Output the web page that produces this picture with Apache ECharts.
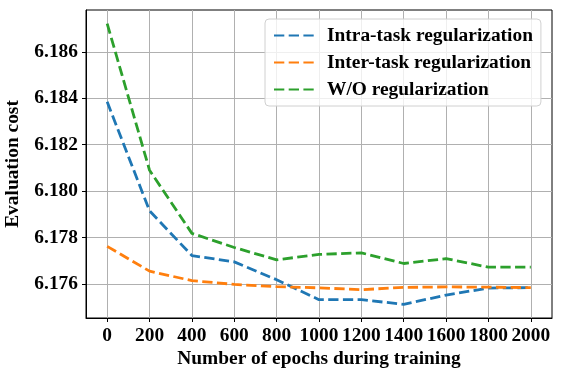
<!DOCTYPE html>
<html>
<head>
<meta charset="utf-8">
<script src="https://cdn.jsdelivr.net/npm/echarts@6/dist/echarts.min.js"></script>
<style>
  html, body { margin: 0; padding: 0; background: #fff; }
  #chart { width: 561px; height: 377px; }
</style>
</head>
<body>
<div id="chart"></div>
<script>
const epochs = [0, 200, 400, 600, 800, 1000, 1200, 1400, 1600, 1800, 2000]
const intraTask = [6.18385, 6.17915, 6.17722, 6.17695, 6.17618, 6.17532, 6.17532, 6.17512, 6.17552, 6.17582, 6.17584]
const interTask = [6.17762, 6.17655, 6.17614, 6.17598, 6.17588, 6.17583, 6.17575, 6.17585, 6.17587, 6.17586, 6.17584]
const withoutReg = [6.18722, 6.18090, 6.17818, 6.17757, 6.17704, 6.17727, 6.17734, 6.17688, 6.17709, 6.17672, 6.17672]
const yTicks = [6.176, 6.178, 6.180, 6.182, 6.184, 6.186]
const xTicks = [0, 200, 400, 600, 800, 1000, 1200, 1400, 1600, 1800, 2000]

const font = 'Liberation Serif, Times New Roman, serif'
const fontSize = 19.4
const colors = ['#1f77b4', '#ff7f0e', '#2ca02c']

const chart = echarts.init(document.getElementById('chart'))

const makeSeries = (name, values, color) => ({
  name,
  type: 'line',
  data: epochs.map((e, i) => [e, values[i]]),
  symbol: 'none',
  lineStyle: { color, width: 2.8, type: [10.3, 4.4] },
  itemStyle: { color },
  z: 3
})

const textStyle = { fontFamily: font, fontWeight: 'bold', fontSize, color: '#000' }

const option = {
  animation: false,
  grid: {
    left: 86, top: 10, right: 9, bottom: 59,
    outerBoundsMode: 'none',
    show: true, borderColor: '#000', borderWidth: 1
  },
  legend: {
    left: 265, top: 19,
    orient: 'vertical',
    itemWidth: 40, itemHeight: 12, itemGap: 8,
    padding: [7, 8, 7, 8],
    backgroundColor: 'rgba(255,255,255,0.8)',
    borderColor: '#d0d0d0', borderWidth: 1, borderRadius: 4,
    itemStyle: { color: 'rgba(0,0,0,0)', borderWidth: 0, opacity: 0 },
    textStyle: { ...textStyle, padding: [0, 0, 0, 8] },
    data: ['Intra-task regularization', 'Inter-task regularization', 'W/O regularization']
  },
  xAxis: {
    type: 'value',
    min: -100, max: 2100,
    name: 'Number of epochs during training',
    nameLocation: 'middle', nameGap: 29,
    nameTextStyle: textStyle,
    axisLine: { show: true, onZero: false, lineStyle: { color: '#000' } },
    axisTick: { show: true, length: 4, lineStyle: { color: '#000' }, customValues: xTicks },
    axisLabel: { customValues: xTicks, margin: 8, formatter: (v) => String(v), ...textStyle },
    splitLine: { show: true, lineStyle: { color: '#b0b0b0', width: 1 } }
  },
  yAxis: {
    type: 'value',
    min: 6.17453, max: 6.18781,
    name: 'Evaluation cost',
    nameLocation: 'middle', nameGap: 64,
    nameTextStyle: textStyle,
    axisLine: { show: true, onZero: false, lineStyle: { color: '#000' } },
    axisTick: { show: true, length: 4, lineStyle: { color: '#000' }, customValues: yTicks },
    axisLabel: { customValues: yTicks, margin: 8, formatter: (v) => v.toFixed(3), ...textStyle },
    splitLine: { show: true, lineStyle: { color: '#b0b0b0', width: 1 } }
  },
  series: [
    makeSeries('Intra-task regularization', intraTask, colors[0]),
    makeSeries('Inter-task regularization', interTask, colors[1]),
    makeSeries('W/O regularization', withoutReg, colors[2])
  ]
}

chart.setOption(option)
</script>
</body>
</html>
